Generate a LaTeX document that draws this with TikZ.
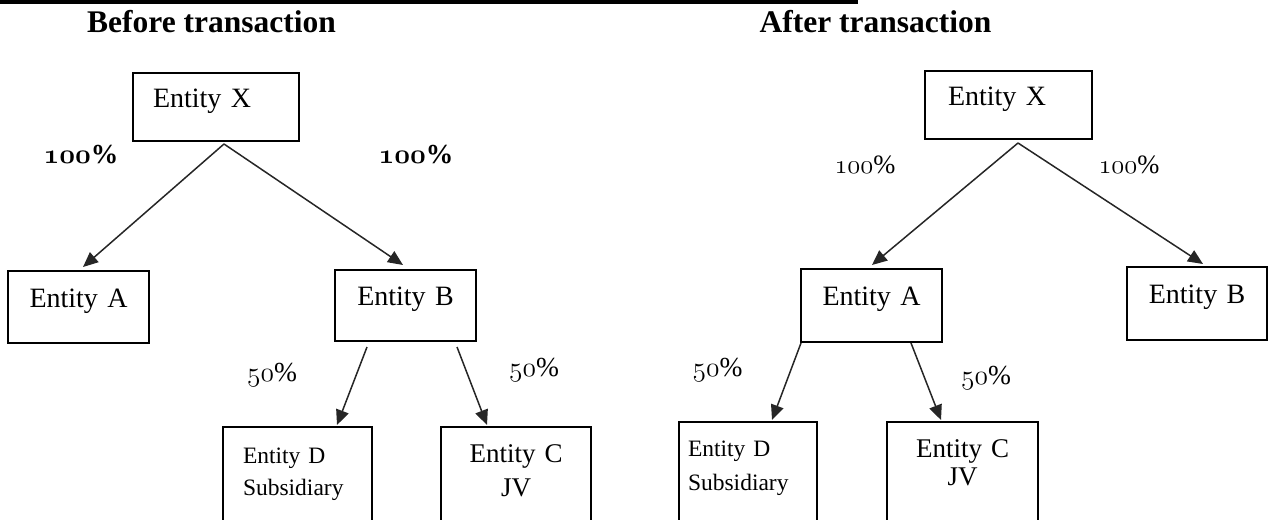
\RequirePackage{fix-cm}
\documentclass[tikz,border=0pt]{standalone}
\usepackage{fontspec}
\setmainfont{Liberation Serif}
\usepackage{tikz}
\usetikzlibrary{arrows.meta,calc,positioning}
\newcommand{\osdig}[1]{{\usefont{OML}{cmm}{m}{it}#1}}
\newcommand{\osdigb}[1]{{\usefont{OML}{cmm}{b}{it}#1}}

\begin{document}
\begin{tikzpicture}[x=1pt,y=-1pt,
    entity/.style={draw=black,line width=1.6pt,rectangle,anchor=north west,
        outer sep=0pt,inner xsep=0pt,inner ysep=0pt,align=center,
        font=\fontsize{28}{32}\selectfont},
    small/.style={font=\fontsize{23.5}{32}\selectfont},
    title/.style={anchor=base,font=\fontsize{31.5}{36}\selectfont\bfseries},
    pct/.style={font=\fontsize{26.5}{30}\selectfont},
    arr/.style={draw=black!85,line width=1.5pt,-{Triangle[length=15pt,width=13pt]}}]
    \useasboundingbox (0,0) rectangle (1268,519);
    \draw[line width=4pt] (0,2) -- (858,2);
    \node[title] (before) at (211.5,33) {Before transaction};
    \node[title] (after) at (875.5,33) {After transaction};

    % before
    \node[entity,align=left,inner xsep=20pt,text width=126pt,
        text height=34pt,text depth=34pt] (lX) at (133,73) {Entity X};
    \node[entity,text width=141pt,text height=36pt,text depth=36pt] (lA) at (8,271) {Entity A};
    \node[entity,text width=141pt,text height=35.5pt,text depth=35.5pt] (lB) at (335,270) {Entity B};
    \node[entity,small,align=left,inner xsep=20pt,text width=109pt,
        text height=36pt,text depth=100pt] (lD) at (223,427) {Entity D\\Subsidiary};
    \node[entity,font=\fontsize{27}{34}\selectfont,text width=150pt,
        text height=35pt,text depth=100pt] (lC) at (441,427) {Entity C\\JV};
    \node[pct,font=\fontsize{27.5}{30}\selectfont\bfseries] (lXA) at (81,155) {\osdigb{100}\%};
    \node[pct,font=\fontsize{27.5}{30}\selectfont\bfseries] (lXB) at (416,155) {\osdigb{100}\%};
    \node[pct,font=\fontsize{27.5}{30}\selectfont] (lBD) at (272,375) {\osdig{50}\%};
    \node[pct,font=\fontsize{27.5}{30}\selectfont] (lBC) at (534,370) {\osdig{50}\%};
    \draw[arr] ([xshift=8pt,yshift=-3pt]lX.south) -- ([xshift=4.5pt,yshift=4pt]lA.north);
    \draw[arr] ([xshift=8pt,yshift=-3pt]lX.south) -- ([xshift=-2.5pt,yshift=5pt]lB.north);
    \draw[arr] ([xshift=-38.5pt,yshift=-6pt]lB.south) -- ([xshift=39.5pt,yshift=2pt]lD.north);
    \draw[arr] ([xshift=51.5pt,yshift=-6pt]lB.south) -- ([xshift=-29pt,yshift=2pt]lC.north);

    % after
    \node[entity,align=left,inner xsep=23pt,text width=121pt,
        text height=34pt,text depth=34pt] (rX) at (925,71) {Entity X};
    \node[entity,text width=141pt,text height=36.5pt,text depth=36.5pt] (rA) at (801,269) {Entity A};
    \node[entity,text width=140pt,text height=36.5pt,text depth=36.5pt] (rB) at (1127,267) {Entity B};
    \node[entity,small,font=\fontsize{23.5}{34}\selectfont,align=left,inner xsep=9pt,
        text width=120pt,text height=34pt,text depth=100pt] (rD) at (679,422) {Entity D\\Subsidiary};
    \node[entity,font=\fontsize{27}{28.5}\selectfont,text width=151pt,
        text height=35pt,text depth=100pt] (rC) at (887,422) {Entity C\\JV};
    \node[pct] (rXA) at (865,165) {\osdig{100}\%};
    \node[pct] (rXB) at (1129,165) {\osdig{100}\%};
    \node[pct,font=\fontsize{27.5}{30}\selectfont] (rAD) at (717.5,370) {\osdig{50}\%};
    \node[pct,font=\fontsize{27.5}{30}\selectfont] (rAC) at (986,378) {\osdig{50}\%};
    \draw[arr] ([xshift=9.5pt,yshift=-4pt]rX.south) -- ([xshift=0.5pt,yshift=4pt]rA.north);
    \draw[arr] ([xshift=9.5pt,yshift=-4pt]rX.south) -- ([xshift=6pt,yshift=3pt]rB.north);
    \draw[arr] ([xshift=-70.5pt,yshift=-1pt]rA.south) -- ([xshift=24pt,yshift=2pt]rD.north);
    \draw[arr] ([xshift=39.5pt,yshift=-1pt]rA.south) -- ([xshift=-21.5pt,yshift=2pt]rC.north);
\end{tikzpicture}
\end{document}
